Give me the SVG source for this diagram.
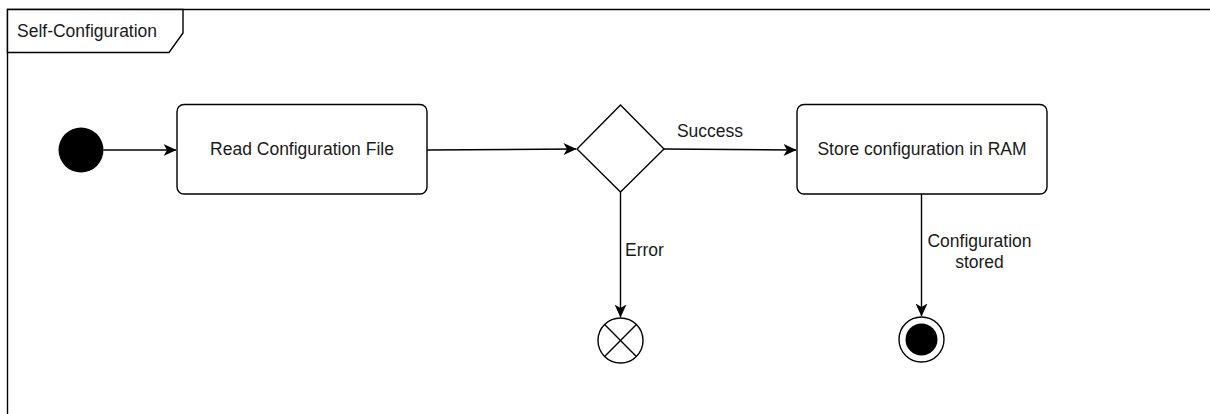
<svg xmlns="http://www.w3.org/2000/svg" width="1210" height="414" viewBox="0 0 1210 414">
  <defs>
    <style>
      text { font-family: "Liberation Sans", Arial, sans-serif; font-size: 17.5px; fill: #1a1a1a; }
      .shape { fill: #ffffff; stroke: #000000; stroke-width: 1.4; }
      .edge { fill: none; stroke: #000000; stroke-width: 1.4; }
      .mid { text-anchor: middle; }
    </style>
    <marker id="arrow" viewBox="0 0 13 12" refX="12.5" refY="6" markerWidth="13" markerHeight="12" markerUnits="userSpaceOnUse" orient="auto">
      <path d="M0,0 L13,6 L0,12 L3.5,6 Z" fill="#000000"/>
    </marker>
  </defs>

  <rect width="1210" height="414" fill="#ffffff"/>

  <!-- frame with title tab -->
  <g id="frame">
    <path d="M7.5,414 L7.5,9.5 L1210,9.5" fill="none" stroke="#000000" stroke-width="1.4"/>
    <path d="M7.5,9.5 L183,9.5 L183,33 L169,52.5 L7.5,52.5 Z" class="shape"/>
    <text x="17" y="37">Self-Configuration</text>
  </g>

  <g id="connectors">
    <path class="edge" d="M103.5,150 L176,150" marker-end="url(#arrow)"/>
    <path class="edge" d="M427,150 L576,149" marker-end="url(#arrow)"/>
    <path class="edge" d="M664,149 L796,150" marker-end="url(#arrow)"/>
    <path class="edge" d="M620.5,192 L620.5,317" marker-end="url(#arrow)"/>
    <path class="edge" d="M921.5,194 L921.5,316" marker-end="url(#arrow)"/>
    <text x="710" y="137" class="mid">Success</text>
    <text x="625" y="256">Error</text>
    <text x="979.5" y="247" class="mid">Configuration</text>
    <text x="979.5" y="268" class="mid">stored</text>
  </g>

  <g id="start">
    <circle cx="81" cy="150" r="22.5" fill="#000000"/>
  </g>

  <g id="read-config">
    <rect x="177" y="104.5" width="250" height="89.5" rx="7" class="shape"/>
    <text x="302" y="155" class="mid">Read Configuration File</text>
  </g>

  <g id="decision">
    <path d="M577,149 L620.5,105 L664,149 L620.5,192 Z" class="shape"/>
  </g>

  <g id="store-config">
    <rect x="797" y="104.5" width="250" height="89.5" rx="7" class="shape"/>
    <text x="922" y="155" class="mid">Store configuration in RAM</text>
  </g>

  <g id="flow-final">
    <circle cx="620.5" cy="340.5" r="22.5" class="shape"/>
    <path class="edge" d="M604.6,324.6 L636.4,356.4 M636.4,324.6 L604.6,356.4"/>
  </g>

  <g id="activity-final">
    <circle cx="921.5" cy="339.5" r="22.5" class="shape"/>
    <circle cx="921.5" cy="339.5" r="16" fill="#000000"/>
  </g>
</svg>
